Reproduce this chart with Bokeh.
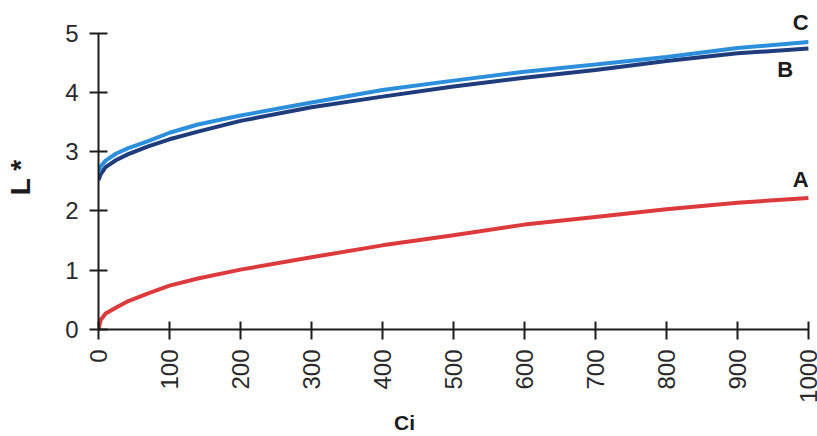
import math
from bokeh.plotting import figure
from bokeh.models import Range1d, FixedTicker, Label
from bokeh.embed import file_html
from bokeh.resources import INLINE

# Data
ci = [0, 3, 10, 25, 42, 70, 100, 140, 200, 300, 400, 500, 600, 700, 800, 900, 1000]
curve_a = [0.0, 0.16, 0.27, 0.37, 0.48, 0.61, 0.74, 0.86, 1.01, 1.22, 1.42, 1.59, 1.77, 1.90, 2.03, 2.14, 2.22]
curve_b = [2.52, 2.62, 2.74, 2.86, 2.96, 3.09, 3.21, 3.34, 3.52, 3.75, 3.93, 4.10, 4.25, 4.38, 4.53, 4.66, 4.74]
curve_c = [2.65, 2.75, 2.85, 2.97, 3.06, 3.18, 3.32, 3.46, 3.61, 3.83, 4.04, 4.20, 4.35, 4.47, 4.60, 4.75, 4.85]
x_ticks = [0, 100, 200, 300, 400, 500, 600, 700, 800, 900, 1000]
y_ticks = [0, 1, 2, 3, 4, 5]

FONT = "Liberation Sans"
INK = "#1c1c1c"
NB = "\u00a0"

p = figure(width=817, height=436, x_range=Range1d(0, 1010), y_range=Range1d(0, 5.4),
           output_backend="svg", toolbar_location=None,
           min_border_left=98, min_border_right=2, min_border_top=9, min_border_bottom=107)
p.outline_line_color = None
p.xgrid.visible = False
p.ygrid.visible = False
p.background_fill_color = "white"
p.border_fill_color = "white"

for ax in (p.xaxis[0], p.yaxis[0]):
    ax.axis_line_color = INK
    ax.axis_line_width = 2
    ax.major_tick_line_color = INK
    ax.major_tick_line_width = 2
    ax.minor_tick_line_color = None
    ax.major_label_text_font = FONT
    ax.major_label_text_font_size = "24px"
    ax.major_label_text_color = "#2a2a2a"

p.xaxis[0].bounds = (0, 1000)
p.yaxis[0].bounds = (0, 5)
p.xaxis[0].ticker = FixedTicker(ticks=x_ticks)
p.yaxis[0].ticker = FixedTicker(ticks=y_ticks)
p.xaxis[0].major_tick_in = 8
p.xaxis[0].major_tick_out = 10
p.xaxis[0].major_label_standoff = 10
p.xaxis[0].major_label_orientation = math.pi / 2
p.yaxis[0].major_tick_in = 9
p.yaxis[0].major_tick_out = 9
p.yaxis[0].major_label_standoff = 11

p.yaxis[0].axis_label = "L *" + NB * 2
p.yaxis[0].axis_label_text_font = FONT
p.yaxis[0].axis_label_text_font_style = "bold"
p.yaxis[0].axis_label_text_font_size = "28px"
p.yaxis[0].axis_label_text_color = INK
p.yaxis[0].axis_label_standoff = 26

p.xaxis[0].axis_label = "Ci" + NB * 18
p.xaxis[0].axis_label_text_font = FONT
p.xaxis[0].axis_label_text_font_style = "bold"
p.xaxis[0].axis_label_text_font_size = "21px"
p.xaxis[0].axis_label_text_color = INK
p.xaxis[0].axis_label_standoff = 5

p.line(ci, curve_a, line_color="#dc3a3c", line_width=4)
p.line(ci, curve_b, line_color="#1f3c7c", line_width=4)
p.line(ci, curve_c, line_color="#2b8fdc", line_width=4)

lab_style = dict(text_font=FONT, text_font_style="bold", text_font_size="22px", text_color=INK)
p.add_layout(Label(x=978, y=4.97, text="C", **lab_style))
p.add_layout(Label(x=956, y=4.18, text="B", **lab_style))
p.add_layout(Label(x=978, y=2.32, text="A", **lab_style))

open("out.html", "w").write(file_html(p, INLINE))
